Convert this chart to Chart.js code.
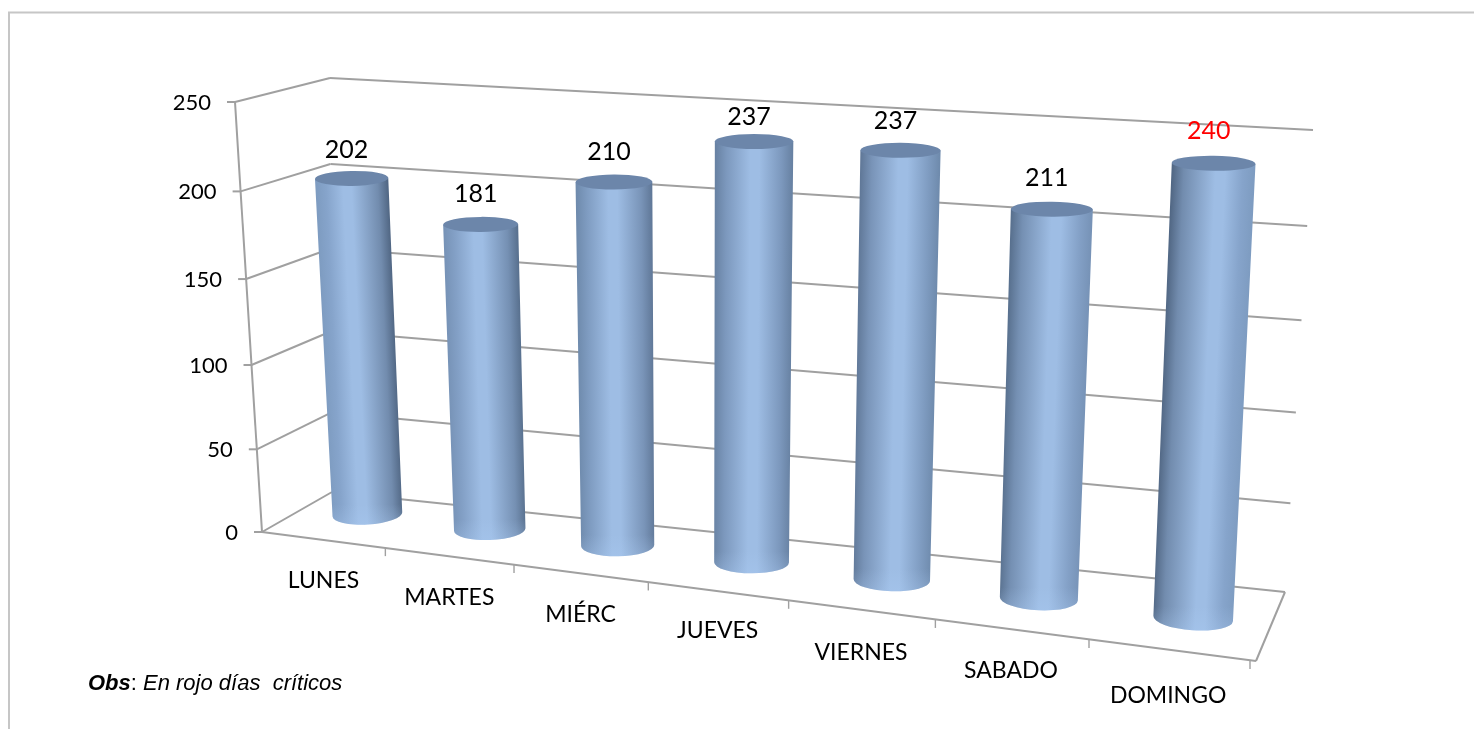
<!DOCTYPE html>
<html>
<head>
<meta charset="utf-8">
<title>Dias</title>
<script src="https://cdn.jsdelivr.net/npm/chart.js@4"></script>
<style>
	body { margin: 0; background: #fff; }
	canvas { display: block; }
</style>
</head>
<body>
<canvas id="mycanvas" width="1474" height="729"></canvas>
<script>
var dias = ['LUNES', 'MARTES', 'MIÉRC', 'JUEVES', 'VIERNES', 'SABADO', 'DOMINGO'];
var valores = [202, 181, 210, 237, 237, 211, 240];
var diasCriticos = ['DOMINGO'];
var escalaTicks = [0, 50, 100, 150, 200, 250];

// corners of the 3D box on screen: [x, y], front/back, left/right, floor(0)/top(1)
var caja = {
	fl0: [262, 532], fr0: [1256, 661], bl0: [332, 492], br0: [1285, 592],
	fl1: [235, 102], fr1: [1272, 176], bl1: [330, 78], br1: [1313, 130]
};
// small hand nudges of the text, the original labels were moved by hand too
var ajusteValor = [2, 0, 0, 5, 1, -1, -2];
var ajusteDia = [0, 0, 0, -2, 1, 0, 4];

function warp(t, k) {
	return t / (t + k * (1 - t));
}
function mezcla(a, b, t) {
	return a + (b - a) * t;
}
function mezclaColor(a, b, t) {
	return 'rgb(' + [0, 1, 2].map(function(i) {
		return Math.round(mezcla(a[i], b[i], t));
	}).join(',') + ')';
}
// u along the categories, d front to back, h floor to top, all 0..1
function proyectar(u, d, h) {
	var uw = warp(u, 1.167), hw = warp(h, 1.05);
	var r = [];
	for (var i = 0; i < 2; i++) {
		var f0 = mezcla(caja.fl0[i], caja.fr0[i], uw), b0 = mezcla(caja.bl0[i], caja.br0[i], uw);
		var f1 = mezcla(caja.fl1[i], caja.fr1[i], uw), b1 = mezcla(caja.bl1[i], caja.br1[i], uw);
		r.push(mezcla(mezcla(f0, b0, d), mezcla(f1, b1, d), hw));
	}
	return r;
}
function linea(ctx, a, b) {
	ctx.beginPath();
	ctx.moveTo(a[0], a[1]);
	ctx.lineTo(b[0], b[1]);
	ctx.stroke();
}
function alturaDe(scale, value) {
	return (scale.bottom - scale.getPixelForValue(value)) / (scale.bottom - scale.top);
}

function dibujarCaja(chart) {
	var ctx = chart.ctx, y = chart.scales.y;
	ctx.save();
	// frame of the picture
	ctx.strokeStyle = '#c6c6c6';
	ctx.lineWidth = 2;
	ctx.beginPath();
	ctx.moveTo(9, 729);
	ctx.lineTo(9, 12.5);
	ctx.lineTo(1474, 12.5);
	ctx.stroke();

	ctx.strokeStyle = '#a0a0a0';
	ctx.lineWidth = 2;
	y.ticks.forEach(function(t) {
		var h = alturaDe(y, t.value);
		linea(ctx, proyectar(0, 0, h), proyectar(0, 1, h));
		linea(ctx, proyectar(0, 1, h), proyectar(1, 1, h));
		var p = proyectar(0, 0, h);
		linea(ctx, p, [p[0] - 8, p[1]]);
		ctx.fillStyle = '#000';
		ctx.font = '22px Lato';
		ctx.textAlign = 'right';
		ctx.textBaseline = 'middle';
		ctx.fillText(t.label, p[0] - 24, p[1] + 1);
	});
	linea(ctx, proyectar(0, 0, 0), proyectar(0, 0, 1));
	linea(ctx, proyectar(0, 0, 0), proyectar(1, 0, 0));
	linea(ctx, proyectar(1, 0, 0), proyectar(1, 1, 0));

	// category ticks and labels along the front edge of the floor
	dias.forEach(function(d, i) {
		var p = proyectar((i + 1) / dias.length, 0, 0);
		p[0] -= 6 * (i + 1) / dias.length;
		ctx.lineWidth = 1.4;
		linea(ctx, p, [p[0], p[1] + 8]);
		var c = proyectar((i + 0.5) / dias.length, 0, 0);
		ctx.fillStyle = '#000';
		ctx.font = '23px Lato';
		ctx.textAlign = 'center';
		ctx.textBaseline = 'middle';
		ctx.fillText(d, c[0] - i, c[1] + 41 + ajusteDia[i]);
	});
	ctx.restore();
}

function dibujarCilindro(ctx, cB, top, u, wT, wB) {
	var rot = mezcla(-4, 4.5, u) * Math.PI / 180;
	var rotTop = mezcla(-1, 1, u) * Math.PI / 180;
	var ryB = mezcla(10, 12, u), ryT = 7.5;
	var cT = [top[0], top[1] + 1];

	// gradient square to the cylinder axis
	var ax = cT[0] - cB[0], ay = cT[1] - cB[1], len = Math.sqrt(ax * ax + ay * ay);
	var nx = -ay / len, ny = ax / len, mx = (cT[0] + cB[0]) / 2, my = (cT[1] + cB[1]) / 2, w = (wT + wB) / 4;
	if (nx < 0) { nx = -nx; ny = -ny; }
	var g = ctx.createLinearGradient(mx - nx * w, my - ny * w, mx + nx * w, my + ny * w);
	var oscuro = [78, 100, 128], medio = [130, 160, 198], claro = [158, 189, 228];
	var pico = mezcla(0.42, 0.6, u);
	g.addColorStop(0, mezclaColor(medio, oscuro, u));
	g.addColorStop(0.14, mezclaColor([136, 166, 205], [112, 138, 172], u));
	g.addColorStop(pico - 0.06, 'rgb(' + claro.join(',') + ')');
	g.addColorStop(pico + 0.06, 'rgb(' + claro.join(',') + ')');
	g.addColorStop(0.86, mezclaColor([112, 138, 172], [136, 166, 205], u));
	g.addColorStop(1, mezclaColor(oscuro, medio, u));

	ctx.beginPath();
	ctx.moveTo(cT[0] + Math.cos(rotTop) * wT / 2, cT[1] + Math.sin(rotTop) * wT / 2);
	ctx.ellipse(cB[0], cB[1], wB / 2, ryB, rot, 0, Math.PI, false);
	ctx.lineTo(cT[0] - Math.cos(rotTop) * wT / 2, cT[1] - Math.sin(rotTop) * wT / 2);
	ctx.closePath();
	ctx.fillStyle = g;
	ctx.fill();

	// lighter rim at the foot
	var pie = ctx.createLinearGradient(0, cB[1] - ryB, 0, cB[1] + ryB);
	pie.addColorStop(0, 'rgba(172,205,245,0)');
	pie.addColorStop(1, 'rgba(172,205,245,0.3)');
	ctx.fillStyle = pie;
	ctx.fill();

	ctx.beginPath();
	ctx.ellipse(cT[0], cT[1], wT / 2, ryT, rotTop, 0, Math.PI * 2);
	ctx.fillStyle = '#6c86aa';
	ctx.fill();
}

var cilindros = {
	id: 'cilindros',
	beforeDatasetsDraw: function(chart) {
		dibujarCaja(chart);
	},
	afterDatasetsDraw: function(chart) {
		var ctx = chart.ctx, y = chart.scales.y, x = chart.scales.x;
		var meta = chart.getDatasetMeta(0);
		ctx.save();
		meta.data.forEach(function(bar, i) {
			var u = (bar.x - x.left) / (x.right - x.left);
			var h = alturaDe(y, valores[i]);
			var top = proyectar(u, mezcla(0.543, 0.62, u), h);
			var base = proyectar(u, mezcla(0.66, 0.49, u), 0);
			base[0] += 3 * u;
			base[1] += 1.5;
			var wB = bar.width * mezcla(0.655, 0.765, u);
			dibujarCilindro(ctx, base, top, u, wB * 1.05, wB);
			ctx.fillStyle = diasCriticos.indexOf(dias[i]) >= 0 ? '#ff0000' : '#000';
			ctx.font = '25px Lato';
			ctx.textAlign = 'center';
			ctx.textBaseline = 'middle';
			ctx.fillText(valores[i], top[0] - 5, top[1] - 29 + ajusteValor[i]);
		});

		ctx.fillStyle = '#000';
		ctx.textAlign = 'left';
		ctx.textBaseline = 'alphabetic';
		var tx = 88;
		ctx.font = 'italic bold 22px "Liberation Sans"';
		ctx.fillText('Obs', tx, 690);
		tx += ctx.measureText('Obs').width;
		ctx.font = '22px "Liberation Sans"';
		ctx.fillText(':', tx, 690);
		tx += ctx.measureText(': ').width;
		ctx.font = 'italic 22px "Liberation Sans"';
		ctx.fillText('En rojo días  críticos', tx, 690);
		ctx.restore();
	}
};

var ctx = document.getElementById('mycanvas');
var barGraph = new Chart(ctx, {
	type: 'bar',
	data: {
		labels: dias,
		datasets: [{
			data: valores,
			backgroundColor: 'rgba(0,0,0,0)',
			categoryPercentage: 1,
			barPercentage: 0.5
		}]
	},
	options: {
		responsive: false,
		animation: false,
		plugins: { legend: { display: false }, tooltip: { enabled: false } },
		scales: {
			x: { display: false },
			y: {
				display: false,
				min: escalaTicks[0],
				max: escalaTicks[escalaTicks.length - 1],
				afterBuildTicks: function(scale) {
					scale.ticks = escalaTicks.map(function(v) { return { value: v, label: String(v) }; });
				}
			}
		}
	},
	plugins: [cilindros]
});
</script>
</body>
</html>
